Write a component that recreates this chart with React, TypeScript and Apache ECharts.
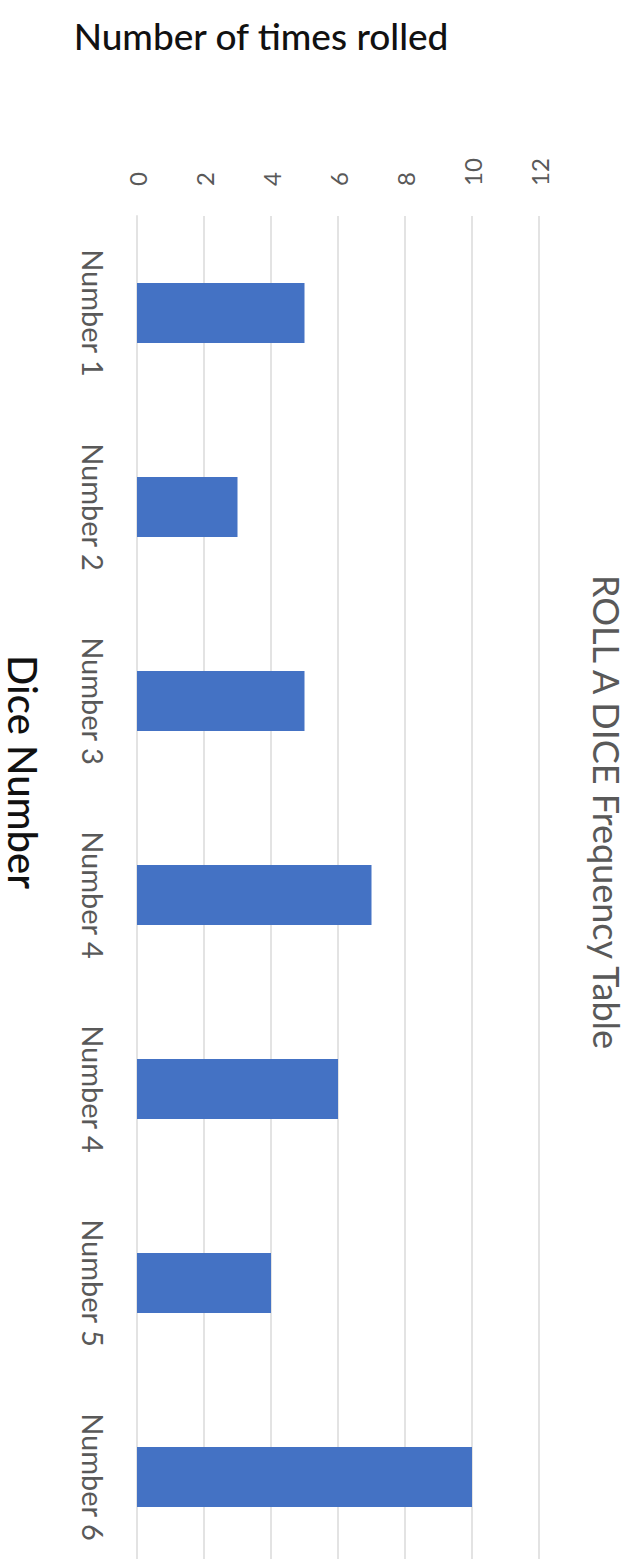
import React, { useEffect, useRef } from "react";
import * as echarts from "echarts";

const categories = ["Number 1", "Number 2", "Number 3", "Number 4", "Number 4", "Number 5", "Number 6"];
const timesRolled = [5, 3, 5, 7, 6, 4, 10];
const valueTicks = { min: 0, max: 12, interval: 2 };

const chartTitle = "ROLL A DICE Frequency Table";
const valueAxisTitle = "Number of times rolled";
const categoryAxisTitle = "Dice Number";

const FONT = "Lato, 'Open Sans', sans-serif";

export default function App() {
  const ref = useRef<HTMLDivElement>(null);
  useEffect(() => {
    if (!ref.current) return;
    const chart = echarts.init(ref.current, undefined, { renderer: "svg" });
    chart.setOption({
      animation: false,
      backgroundColor: "#ffffff",
      textStyle: { fontFamily: FONT },
      grid: {
        left: 137,
        right: 101,
        top: 216,
        height: 1358,
        containLabel: false,
        outerBoundsMode: "none",
      },
      xAxis: {
        type: "value",
        position: "top",
        min: valueTicks.min,
        max: valueTicks.max,
        interval: valueTicks.interval,
        axisLine: { show: false },
        axisTick: { show: false },
        axisLabel: { rotate: -90, margin: 30, fontSize: 24, color: "#595959", fontFamily: FONT },
        splitLine: { show: true, lineStyle: { color: "#e3e3e3", width: 2 } },
      },
      yAxis: {
        type: "category",
        inverse: true,
        data: categories,
        axisLine: { show: true, lineStyle: { color: "#e3e3e3", width: 2 } },
        axisTick: { show: false },
        axisLabel: { rotate: -90, margin: 29, fontSize: 29, color: "#595959", fontFamily: FONT },
      },
      series: [
        {
          type: "bar",
          data: timesRolled,
          barWidth: 60,
          itemStyle: { color: "#4472C4" },
        },
      ],
      graphic: [
        {
          type: "text",
          x: 607,
          y: 812,
          rotation: -Math.PI / 2,
          style: {
            text: chartTitle,
            font: `36px ${FONT}`,
            fill: "#595959",
            align: "center",
            verticalAlign: "middle",
          },
        },
        {
          type: "text",
          x: 23,
          y: 772,
          rotation: -Math.PI / 2,
          style: {
            text: categoryAxisTitle,
            font: `500 40px ${FONT}`,
            fill: "#111111",
            align: "center",
            verticalAlign: "middle",
          },
        },
        {
          type: "text",
          x: 261,
          y: 35,
          style: {
            text: valueAxisTitle,
            font: `500 37px ${FONT}`,
            fill: "#111111",
            align: "center",
            verticalAlign: "middle",
          },
        },
      ],
    });
    return () => chart.dispose();
  }, []);
  return (
    <div
      ref={ref}
      style={{ position: "absolute", left: 0, top: 0, width: 640, height: 1559, background: "#fff" }}
    />
  );
}
